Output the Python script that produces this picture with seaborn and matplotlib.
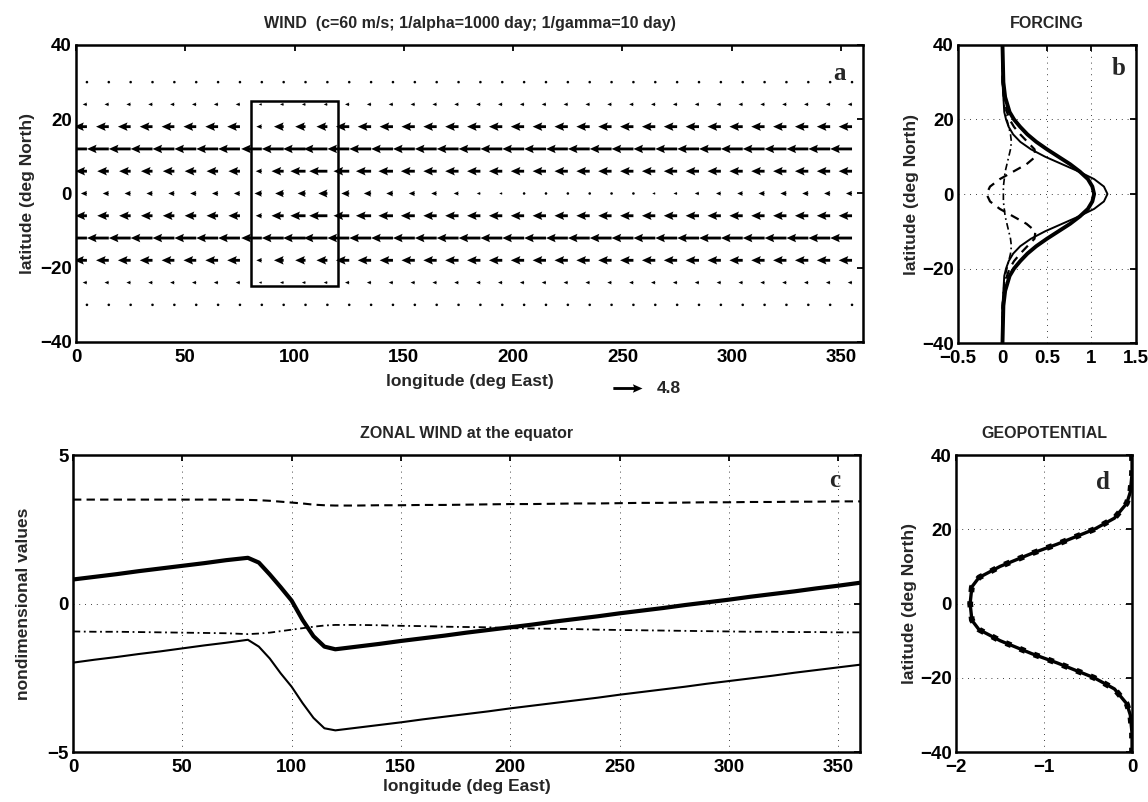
import matplotlib
matplotlib.use("Agg")
import matplotlib.pyplot as plt
import numpy as np
import seaborn as sns
from matplotlib.patches import Rectangle

# ---- panel a: wind vectors (u, westward negative) on a 10 deg x 6 deg grid
quiver_lon = np.arange(5, 360, 10)
quiver_lat = [30, 24, 18, 12, 6, 0, -6, -12, -18, -24, -30]
u_lat30 = [-0.2] * 36
u_lat24 = [-0.7] * 8 + [-0.5, -0.6, -0.6, -0.6] + [-0.7] * 24
u_lat18 = [-2.1] * 8 + [-0.9, -1.6, -1.7, -1.8] + [-2.2] * 24
u_lat12 = [-3.6] * 8 + [-3.4, -3.6, -3.7, -3.9] + [-3.6] * 24
u_lat6 = [-1.9] * 8 + [-1.0, -2.0, -2.5, -3.0] + [-2.6, -2.5, -2.4, -2.3] + [-2.2] * 20
u_lat0 = [-1.0] * 8 + [-1.2, -1.4, -1.3, -1.5] + [-1.3, -1.2, -1.1, -1.0, -0.9, -0.8, -0.6,
          -0.5, -0.4, -0.3, -0.2, -0.2, -0.3, -0.4, -0.5, -0.6, -0.7, -0.8, -0.9, -1.0,
          -1.0, -1.0, -1.0, -1.0]
u_latm6 = u_lat6
u_latm12 = u_lat12
u_latm18 = u_lat18
u_latm24 = u_lat24
u_latm30 = u_lat30
u_rows = [u_lat30, u_lat24, u_lat18, u_lat12, u_lat6, u_lat0,
          u_latm6, u_latm12, u_latm18, u_latm24, u_latm30]
box_lon = (80, 120)
box_lat = (-25, 25)
key_speed = 4.8

# ---- panel b: forcing profiles
lat_b = [40, 30, 26, 22, 20, 18, 16, 14, 12, 10, 8, 6, 4, 2, 0,
         -2, -4, -6, -8, -10, -12, -14, -16, -18, -20, -22, -26, -30, -40]
forcing_thick = [0, 0.01, 0.03, 0.08, 0.13, 0.2, 0.28, 0.38, 0.5, 0.63, 0.76, 0.87, 0.96, 1.01, 1.03,
                 1.01, 0.96, 0.87, 0.76, 0.63, 0.5, 0.38, 0.28, 0.2, 0.13, 0.08, 0.03, 0.01, 0]
forcing_thin = [0, 0, 0.01, 0.02, 0.04, 0.07, 0.12, 0.2, 0.32, 0.48, 0.67, 0.86, 1.03, 1.14, 1.18,
                1.14, 1.03, 0.86, 0.67, 0.48, 0.32, 0.2, 0.12, 0.07, 0.04, 0.02, 0.01, 0, 0]
forcing_dash = [0, 0, 0.02, 0.05, 0.08, 0.13, 0.2, 0.28, 0.36, 0.37, 0.27, 0.12, -0.03, -0.14, -0.18,
                -0.14, -0.03, 0.12, 0.27, 0.37, 0.36, 0.28, 0.2, 0.13, 0.08, 0.05, 0.02, 0, 0]
forcing_dashdot = [0, 0, 0.01, 0.03, 0.05, 0.07, 0.09, 0.1, 0.09, 0.07, 0.05, 0.03, 0.02, 0.01, 0.01,
                   0.01, 0.02, 0.03, 0.05, 0.07, 0.09, 0.1, 0.09, 0.07, 0.05, 0.03, 0.01, 0, 0]

# ---- panel c: zonal wind at the equator
lon_c = [0, 10, 20, 30, 40, 50, 60, 70, 80, 85, 90, 95, 100, 105, 110, 115, 120,
         130, 140, 150, 160, 170, 180, 190, 200, 210, 220, 230, 240, 250, 260,
         270, 280, 290, 300, 310, 320, 330, 340, 350, 360]
zonal_thick = [0.81, 0.90, 0.99, 1.09, 1.18, 1.27, 1.36, 1.46, 1.54, 1.38, 0.98, 0.55, 0.10, -0.55,
               -1.10, -1.45, -1.54, -1.45, -1.36, -1.26, -1.17, -1.08, -0.98, -0.89, -0.80, -0.71,
               -0.61, -0.52, -0.43, -0.33, -0.24, -0.15, -0.05, 0.04, 0.13, 0.23, 0.32, 0.41,
               0.51, 0.60, 0.70]
zonal_thin = [-1.99, -1.89, -1.80, -1.70, -1.61, -1.51, -1.41, -1.32, -1.22, -1.45, -1.85, -2.35,
              -2.80, -3.35, -3.85, -4.20, -4.27, -4.18, -4.09, -4.00, -3.90, -3.81, -3.72, -3.63,
              -3.53, -3.44, -3.35, -3.26, -3.17, -3.07, -2.98, -2.89, -2.80, -2.70, -2.61, -2.52,
              -2.43, -2.33, -2.24, -2.15, -2.06]
zonal_dash = [3.50, 3.50, 3.50, 3.50, 3.50, 3.50, 3.50, 3.50, 3.49, 3.48, 3.46, 3.43, 3.40, 3.37,
              3.33, 3.31, 3.30, 3.30, 3.31, 3.31, 3.32, 3.32, 3.33, 3.34, 3.35, 3.35, 3.36, 3.37,
              3.37, 3.38, 3.39, 3.39, 3.40, 3.41, 3.41, 3.42, 3.42, 3.43, 3.43, 3.44, 3.44]
zonal_dashdot = [-0.94, -0.95, -0.95, -0.96, -0.97, -0.98, -0.99, -1.00, -1.03, -1.01, -0.98, -0.93,
                 -0.88, -0.83, -0.78, -0.74, -0.72, -0.72, -0.73, -0.75, -0.76, -0.78, -0.79, -0.80,
                 -0.83, -0.84, -0.85, -0.86, -0.88, -0.89, -0.90, -0.91, -0.92, -0.93, -0.94, -0.95,
                 -0.95, -0.96, -0.96, -0.97, -0.97]

# ---- panel d: geopotential
lat_d = [40, 35, 30, 27, 23, 20, 16, 13.5, 10, 7, 4.5, 0,
         -4.5, -7, -10, -13.5, -16, -20, -23, -27, -30, -35, -40]
geopot = [0.0, 0.0, -0.02, -0.06, -0.2, -0.43, -0.85, -1.14, -1.5, -1.74, -1.82, -1.84,
          -1.82, -1.74, -1.5, -1.14, -0.85, -0.43, -0.2, -0.06, -0.02, 0.0, 0.0]

sns.set_theme(style="white")
plt.rcParams["font.family"] = ["Liberation Sans", "DejaVu Sans"]
plt.rcParams["axes.edgecolor"] = "black"
plt.rcParams["axes.linewidth"] = 1.8

TICK_FS = 13.5
LABEL_FS = 12.5
TITLE_FS = 11.5


def style_axes(ax):
    ax.tick_params(direction="in", top=True, right=True, length=4, width=1.3,
                   labelsize=TICK_FS, colors="black")
    ax.tick_params(axis="x", pad=5)
    ax.tick_params(axis="y", pad=3)
    for lab in ax.get_xticklabels() + ax.get_yticklabels():
        lab.set_fontweight("bold")
    for s in ax.spines.values():
        s.set_visible(True)
        s.set_color("black")
    ax.xaxis.label.set_fontweight("bold")
    ax.yaxis.label.set_fontweight("bold")
    ax.title.set_fontweight("bold")


def panel_letter(ax, letter, x, y):
    ax.text(x, y, letter, transform=ax.transAxes, ha="center", va="center",
            fontsize=18, fontweight="bold", family="Liberation Serif")


fig = plt.figure(figsize=(11.48, 8.02), dpi=100)
ax_a = fig.add_axes([0.0662, 0.5736, 0.6855, 0.3703])
ax_b = fig.add_axes([0.8345, 0.5723, 0.1550, 0.3716])
ax_c = fig.add_axes([0.0636, 0.0623, 0.6855, 0.3703])
ax_d = fig.add_axes([0.8328, 0.0623, 0.1533, 0.3703])

# ---- a
LON, LAT = np.meshgrid(quiver_lon, quiver_lat)
U = np.array(u_rows)
V = np.zeros_like(U)
q = ax_a.quiver(LON, LAT, U, V, angles="xy", scale_units="x", scale=0.36,
                width=0.0036, headwidth=3.0, headlength=3.4, headaxislength=3.0,
                color="black", pivot="tail")
ax_a.quiverkey(q, 642 / 1148, 1 - 388 / 802, key_speed, "4.8", labelpos="E",
               coordinates="figure", labelsep=0.15,
               fontproperties={"size": LABEL_FS, "weight": "bold"})
ax_a.add_patch(Rectangle((box_lon[0], box_lat[0]), box_lon[1] - box_lon[0],
                         box_lat[1] - box_lat[0], fill=False, lw=1.8, ec="black"))
ax_a.set_xlim(0, 360)
ax_a.set_ylim(-40, 40)
ax_a.set_xticks([0, 50, 100, 150, 200, 250, 300, 350])
ax_a.set_yticks([-40, -20, 0, 20, 40])
ax_a.set_xlabel("longitude (deg East)", fontsize=LABEL_FS, labelpad=6)
ax_a.set_ylabel("latitude (deg North)", fontsize=LABEL_FS, labelpad=4)
ax_a.set_title("WIND  (c=60 m/s; 1/alpha=1000 day; 1/gamma=10 day)", fontsize=TITLE_FS, pad=12)
style_axes(ax_a)
panel_letter(ax_a, "a", 0.97, 0.905)

# ---- b
grid_kw = dict(color="black", linestyle=(0, (1, 6)), linewidth=0.6)
for gx in [0.5, 1.0]:
    ax_b.axvline(gx, **grid_kw)
for gy in [-20, 0, 20]:
    ax_b.axhline(gy, **grid_kw)
sns.lineplot(x=forcing_thick, y=lat_b, sort=False, estimator=None, ax=ax_b,
             color="black", linewidth=2.8)
sns.lineplot(x=forcing_thin, y=lat_b, sort=False, estimator=None, ax=ax_b,
             color="black", linewidth=1.4)
sns.lineplot(x=forcing_dash, y=lat_b, sort=False, estimator=None, ax=ax_b,
             color="black", linewidth=1.6, linestyle=(0, (4, 3)))
sns.lineplot(x=forcing_dashdot, y=lat_b, sort=False, estimator=None, ax=ax_b,
             color="black", linewidth=1.2, linestyle=(0, (4, 2, 1, 2)))
ax_b.set_xlim(-0.5, 1.5)
ax_b.set_ylim(-40, 40)
ax_b.set_xticks([-0.5, 0, 0.5, 1, 1.5])
ax_b.set_xticklabels(["\u22120.5", "0", "0.5", "1", "1.5"])
ax_b.set_yticks([-40, -20, 0, 20, 40])
ax_b.set_ylabel("latitude (deg North)", fontsize=LABEL_FS, labelpad=2)
ax_b.set_title("FORCING", fontsize=TITLE_FS, pad=12)
style_axes(ax_b)
panel_letter(ax_b, "b", 0.9, 0.92)

# ---- c
for gx in [50, 100, 150, 200, 250, 300, 350]:
    ax_c.axvline(gx, **grid_kw)
ax_c.axhline(0, **grid_kw)
sns.lineplot(x=lon_c, y=zonal_dash, ax=ax_c, color="black", linewidth=1.5,
             linestyle=(0, (4, 2.5)))
sns.lineplot(x=lon_c, y=zonal_thick, ax=ax_c, color="black", linewidth=3.0)
sns.lineplot(x=lon_c, y=zonal_dashdot, ax=ax_c, color="black", linewidth=1.3,
             linestyle=(0, (4, 2, 1, 2)))
sns.lineplot(x=lon_c, y=zonal_thin, ax=ax_c, color="black", linewidth=1.5)
ax_c.set_xlim(0, 360)
ax_c.set_ylim(-5, 5)
ax_c.set_xticks([0, 50, 100, 150, 200, 250, 300, 350])
ax_c.set_yticks([-5, 0, 5])
ax_c.set_xlabel("longitude (deg East)", fontsize=LABEL_FS, labelpad=2)
ax_c.set_ylabel("nondimensional values", fontsize=LABEL_FS, labelpad=12)
ax_c.set_title("ZONAL WIND at the equator", fontsize=TITLE_FS, pad=12)
style_axes(ax_c)
panel_letter(ax_c, "c", 0.968, 0.916)

# ---- d
ax_d.axvline(-1, **grid_kw)
for gy in [-20, 0, 20]:
    ax_d.axhline(gy, **grid_kw)
sns.lineplot(x=geopot, y=lat_d, sort=False, estimator=None, ax=ax_d,
             color="black", linewidth=2.4)
sns.lineplot(x=geopot, y=lat_d, sort=False, estimator=None, ax=ax_d,
             color="black", linewidth=4.2, linestyle=(0, (1, 1.6)))
ax_d.set_xlim(-2, 0)
ax_d.set_ylim(-40, 40)
ax_d.set_xticks([-2, -1, 0])
ax_d.set_yticks([-40, -20, 0, 20, 40])
ax_d.set_ylabel("latitude (deg North)", fontsize=LABEL_FS, labelpad=2)
ax_d.set_title("GEOPOTENTIAL", fontsize=TITLE_FS, pad=12)
style_axes(ax_d)
panel_letter(ax_d, "d", 0.835, 0.906)

fig.savefig("out.png", dpi=100)
